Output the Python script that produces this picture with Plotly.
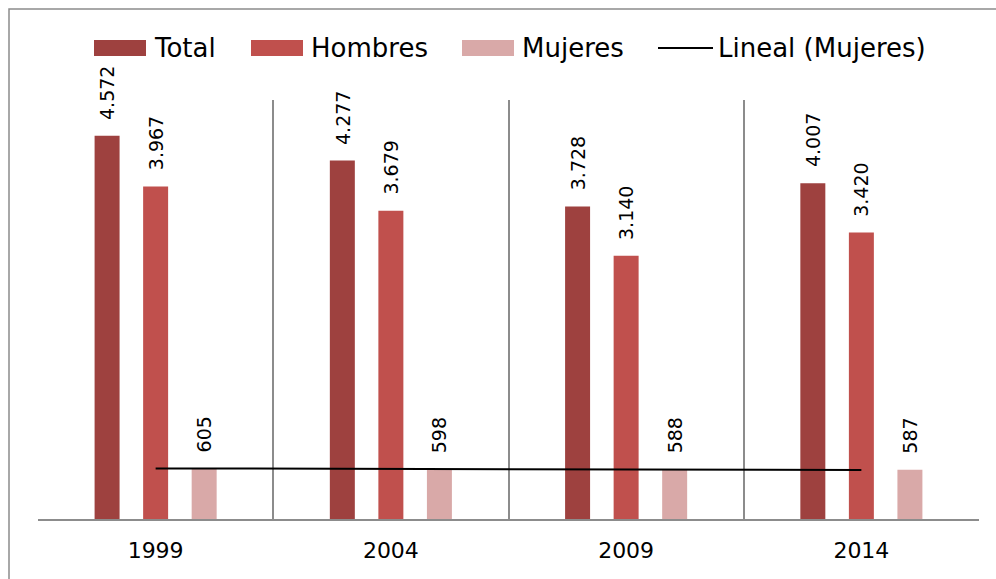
import numpy as np
import plotly.graph_objects as go

years = ["1999", "2004", "2009", "2014"]
total = [4572, 4277, 3728, 4007]
hombres = [3967, 3679, 3140, 3420]
mujeres = [605, 598, 588, 587]

series_names = ["Total", "Hombres", "Mujeres"]
trend_name = "Lineal (Mujeres)"
colors = ["#9E413F", "#C0504D", "#D9A9A8"]

W, H = 996, 579
L, R, T, B = 38, 17, 100, 60
PW, PH = W - L - R, H - T - B
FONT = "DejaVu Sans"


def px(x):
    return (x - L) / PW


def py(y):
    return (H - B - y) / PH


fig = go.Figure()
series = [total, hombres, mujeres]
for name, vals, col in zip(series_names, series, colors):
    fig.add_trace(go.Bar(x=years, y=vals, name=name, marker=dict(color=col, line=dict(width=0)),
                         showlegend=False))

# linear trendline of Mujeres (least squares, as the spreadsheet does)
idx = np.arange(len(mujeres))
slope, intercept = np.polyfit(idx, mujeres, 1)
trend = slope * idx + intercept
fig.add_trace(go.Scatter(x=years, y=trend, mode="lines", name=trend_name,
                         line=dict(color="black", width=2), showlegend=False))

# data labels (x given as category index)
slot = 48.5
for k, vals in enumerate(series):
    for i, v in enumerate(vals):
        fig.add_annotation(x=i, y=v, xref="x", yref="y", text=f"{v:,}".replace(",", "."),
                           showarrow=False, textangle=-90, xanchor="center", yanchor="bottom",
                           xshift=(k - 1) * slot, yshift=14,
                           font=dict(family=FONT, size=19, color="black"))

# legend (manual)
legend_items = [(94, 152, colors[0], series_names[0]),
                (251, 309, colors[1], series_names[1]),
                (462, 520, colors[2], series_names[2])]
for sx, tx, col, name in legend_items:
    fig.add_shape(type="rect", xref="paper", yref="paper", x0=px(sx), x1=px(sx + 52),
                  y0=py(56), y1=py(40), fillcolor=col, line=dict(width=0))
    fig.add_annotation(xref="paper", yref="paper", x=px(tx), y=py(48), text=name, showarrow=False,
                       xanchor="left", yanchor="middle", font=dict(family=FONT, size=26, color="black"))
fig.add_shape(type="line", xref="paper", yref="paper", x0=px(658), x1=px(713), y0=py(48), y1=py(48),
              line=dict(color="black", width=2))
fig.add_annotation(xref="paper", yref="paper", x=px(716), y=py(48), text=trend_name, showarrow=False,
                   xanchor="left", yanchor="middle", font=dict(family=FONT, size=26, color="black"))

# outer chart border
fig.add_shape(type="rect", xref="paper", yref="paper", x0=px(9), y1=py(9), x1=px(W + 20), y0=py(H + 20),
              line=dict(color="#8C8C8C", width=1.5), fillcolor="rgba(0,0,0,0)", layer="below")

fig.update_layout(
    width=W, height=H,
    margin=dict(l=L, r=R, t=T, b=B, autoexpand=False),
    paper_bgcolor="white", plot_bgcolor="white",
    barmode="group", bargap=0.381, bargroupgap=0.485,
    font=dict(family=FONT, color="black"),
    showlegend=False,
)
fig.update_xaxes(type="category", range=[-0.5, len(years) - 0.5], autorange=False,
                 tickson="boundaries", showgrid=True, gridcolor="#8C8C8C", gridwidth=1.5,
                 showline=True, linecolor="#8C8C8C", linewidth=1.5, ticks="", tickangle=0,
                 automargin=False,
                 tickfont=dict(family=FONT, size=22, color="black"), ticklabelstandoff=11)
fig.update_yaxes(range=[0, 5000], autorange=False, visible=False, showgrid=False)

fig.write_html("out.html", config={"displayModeBar": False},
               post_script="document.body.style.margin='0px';document.body.style.overflow='hidden';")
